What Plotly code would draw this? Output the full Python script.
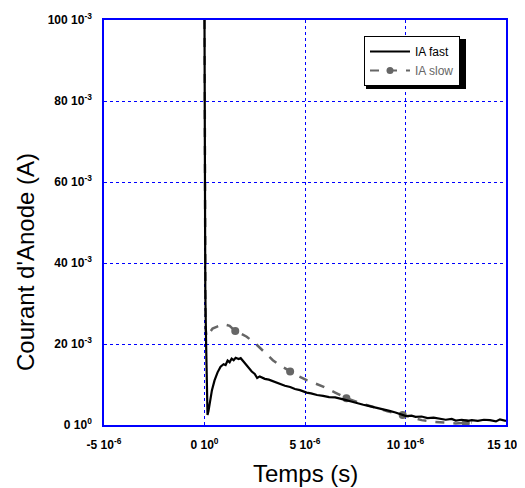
import numpy as np
import plotly.graph_objects as go

# time in microseconds, current in mA
fast_t_us = [0.00, 0.02, 0.04, 0.08, 0.12, 0.15, 0.20, 0.28, 0.37, 0.50, 0.65, 0.80, 0.95, 1.05,
             1.15, 1.25, 1.35, 1.45, 1.55, 1.70, 1.80, 1.95, 2.10, 2.20, 2.35, 2.50, 2.62, 2.75,
             3.00, 3.20, 3.40, 3.60, 3.80, 4.00, 4.26, 4.50, 4.75, 5.08, 5.30, 5.60, 5.90, 6.20,
             6.50, 6.70, 7.00, 7.30, 7.55, 7.90, 8.10, 8.38, 8.70, 9.00, 9.20, 9.50, 9.80, 10.03,
             10.30, 10.50, 10.80, 11.10, 11.40, 11.70, 12.00, 12.30, 12.50, 12.80, 13.10, 13.30,
             13.60, 13.90, 14.20, 14.50, 14.70, 15.00]
fast_ia_ma = [100, 60, 33, 20, 8, 2.5, 3.5, 6.5, 8.6, 11.0, 13.0, 14.4, 15.0, 14.8,
              15.9, 15.5, 16.4, 16.0, 16.6, 16.3, 16.5, 15.6, 14.6, 14.0, 13.2, 12.6, 11.6, 12.0,
              11.4, 11.2, 10.8, 10.4, 10.1, 9.7, 9.4, 8.9, 8.6, 8.0, 7.8, 7.4, 7.2, 6.9,
              6.8, 6.5, 6.2, 5.8, 5.4, 5.0, 4.8, 4.5, 4.1, 3.8, 3.5, 3.1, 2.6, 2.2,
              2.3, 2.0, 2.1, 1.7, 1.8, 1.5, 1.3, 1.5, 1.1, 1.3, 1.0, 1.2,
              1.0, 1.3, 1.2, 0.9, 1.4, 1.0]

slow_t_us = [0.00, 0.01, 0.03, 0.05, 0.10, 0.20, 0.40, 0.63, 0.95, 1.25, 1.53, 1.80, 2.10, 2.35,
             2.60, 3.00, 3.40, 3.80, 4.26, 4.70, 5.08, 5.50, 5.90, 6.50, 7.06, 7.70, 8.38, 9.10,
             9.86, 10.30, 10.80, 11.40, 12.00, 12.50, 13.00, 13.30]
slow_ia_ma = [100, 60, 30, 24, 21.8, 22.5, 23.8, 24.3, 24.9, 24.5, 23.2, 22.6, 21.8, 20.8,
              19.8, 17.9, 16.0, 14.6, 13.2, 12.0, 11.1, 10.3, 9.5, 8.0, 6.6, 5.5, 4.5, 3.4,
              2.5, 1.8, 1.2, 0.8, 0.5, 0.4, 0.5, 0.6]

slow_marker_t_us = [1.53, 4.26, 7.06, 9.86, 13.0]
slow_marker_ia_ma = [23.2, 13.2, 6.6, 2.5, 0.5]

x_ticks = [-5e-6, 0, 5e-6, 10e-6, 15e-6]
x_ticklabels = ["-5 10<sup>-6</sup>", "0 10<sup>0</sup>", "5 10<sup>-6</sup>",
                "10 10<sup>-6</sup>", "15 10<sup>-6</sup>"]
y_ticks = [0, 0.02, 0.04, 0.06, 0.08, 0.1]
y_ticklabels = ["0 10<sup>0</sup>", "20 10<sup>-3</sup>", "40 10<sup>-3</sup>",
                "60 10<sup>-3</sup>", "80 10<sup>-3</sup>", "100 10<sup>-3</sup>"]

SLOW_GREY = "#666666"
BLUE = "#0000ff"

# page body adds an 8px margin, so the figure is drawn 8px smaller
OFF = 8
W, H = 525, 488
# plot area in window pixels: x 104..506, y 20..425
PL, PR, PT, PB = 104, 506, 20, 425
PW, PH = PR - PL, PB - PT


def px_x(px):
    return (px - PL) / PW


def px_y(py):
    return (PB - py) / PH


fig = go.Figure()

# slow first so the fast trace sits on top
fig.add_trace(go.Scatter(
    x=np.array(slow_t_us) * 1e-6, y=np.array(slow_ia_ma) * 1e-3,
    mode="lines", line=dict(color=SLOW_GREY, width=2.5, dash="dash"),
    showlegend=False
))
fig.add_trace(go.Scatter(
    x=np.array(slow_marker_t_us) * 1e-6, y=np.array(slow_marker_ia_ma) * 1e-3,
    mode="markers", marker=dict(color=SLOW_GREY, size=8), showlegend=False
))
fig.add_trace(go.Scatter(
    x=np.array(fast_t_us) * 1e-6, y=np.array(fast_ia_ma) * 1e-3,
    mode="lines", line=dict(color="black", width=2.2),
    name="IA fast", legendrank=1
))
# legend-only entry for the slow series
fig.add_trace(go.Scatter(
    x=[None], y=[None], mode="lines+markers",
    line=dict(color=SLOW_GREY, width=2, dash="dash"), marker=dict(color=SLOW_GREY, size=7),
    name="<span style='color:#666666'>IA slow</span>", legendrank=2
))

# legend drop shadow
fig.add_shape(type="rect", xref="paper", yref="paper",
              x0=px_x(366), x1=px_x(466), y0=px_y(89), y1=px_y(39),
              fillcolor="black", line_width=0, layer="above")

# axis titles placed as annotations so they sit where the reference has them
fig.add_annotation(text="Temps (s)", xref="paper", yref="paper", x=px_x(305), y=px_y(474),
                   xanchor="center", yanchor="middle", showarrow=False,
                   font=dict(size=24, color="black"))
fig.add_annotation(text="Courant d'Anode (A)", xref="paper", yref="paper", x=px_x(25), y=px_y(262),
                   xanchor="center", yanchor="middle", showarrow=False, textangle=-90,
                   font=dict(size=24, color="black"))

axis_common = dict(
    showgrid=True, gridcolor=BLUE, griddash="dot", gridwidth=1,
    showline=True, linecolor=BLUE, linewidth=1.5, mirror=True,
    zeroline=False, ticks="", automargin=False, ticklabelstandoff=8,
    ticklabeloverflow="allow",
    tickfont=dict(family="Liberation Sans, Arial", size=12, color="black", weight="bold"),
)

fig.update_layout(
    width=W - OFF, height=H - OFF,
    margin=dict(l=PL - OFF, r=W - PR, t=PT - OFF, b=H - PB, autoexpand=False),
    paper_bgcolor="white", plot_bgcolor="white",
    font=dict(family="Liberation Sans, Arial", color="black"),
    xaxis=dict(range=[-5e-6, 15e-6], tickvals=x_ticks, ticktext=x_ticklabels, **axis_common),
    yaxis=dict(range=[0, 0.1], tickvals=y_ticks, ticktext=y_ticklabels, **axis_common),
    legend=dict(x=px_x(364), y=px_y(36), xanchor="left", yanchor="top",
                bgcolor="white", bordercolor="black", borderwidth=1,
                font=dict(size=12, color="black"), itemwidth=40, tracegroupgap=0,
                entrywidth=52),
)

fig.write_html("out.html")
